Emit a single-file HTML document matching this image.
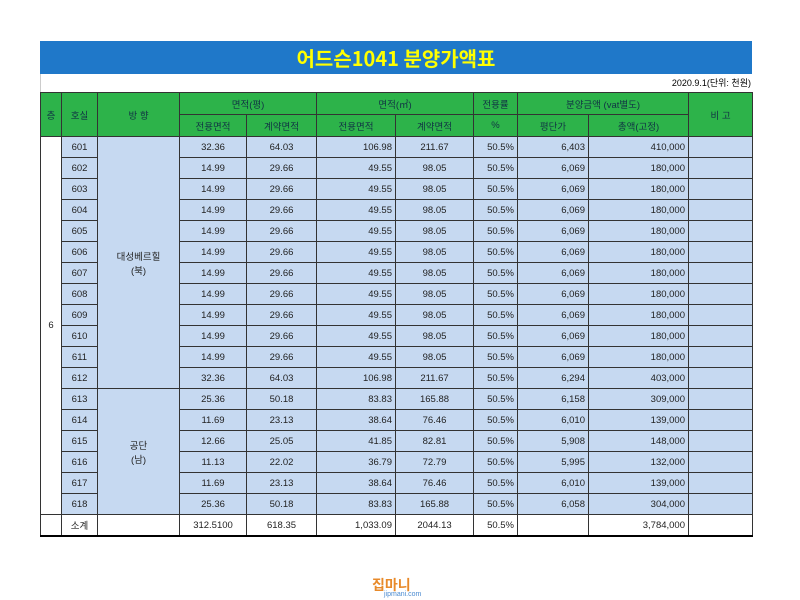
<!DOCTYPE html><html><head><meta charset="utf-8"><style>
body{margin:0;width:800px;height:600px;background:#fff;position:relative;overflow:hidden;font-family:"Liberation Sans","Noto Sans CJK KR",sans-serif}
.t{position:absolute;left:40px;top:41px;width:712px;height:33px;background:#1f78c9;color:#ffff00;font-weight:bold;font-size:20px;text-align:center;line-height:33px;font-family:"Noto Sans CJK KR",sans-serif}
.d{position:absolute;left:40px;top:74px;width:710px;height:18px;font-size:9px;text-align:right;line-height:18px;border-left:1px solid #ccc}
table{position:absolute;left:40px;top:92px;border-collapse:collapse;table-layout:fixed;font-size:9.5px;color:#222}
td{border:1px solid #333;height:20px;padding:0 3px;text-align:center;background:#c6d9f1;white-space:nowrap;overflow:hidden}
tr.h td{background:#2db34a;height:21px;color:#134}
td.r{text-align:right}
td.w{background:#fff}
table{border-bottom:2px solid #000}
</style></head><body>
<div class="t">어드슨1041 분양가액표</div>
<div class="d">2020.9.1(단위: 천원)</div>
<table>
<colgroup><col style="width:21px"><col style="width:36px"><col style="width:82px"><col style="width:67px"><col style="width:70px"><col style="width:79px"><col style="width:78px"><col style="width:44px"><col style="width:71px"><col style="width:100px"><col style="width:64px"></colgroup>
<tr class="h"><td rowspan="2">층</td><td rowspan="2">호실</td><td rowspan="2">방 향</td><td colspan="2">면적(평)</td><td colspan="2">면적(㎡)</td><td>전용률</td><td colspan="2">분양금액 (vat별도)</td><td rowspan="2">비 고</td></tr>
<tr class="h"><td>전용면적</td><td>계약면적</td><td>전용면적</td><td>계약면적</td><td>%</td><td>평단가</td><td>총액(고정)</td></tr>
<tr><td class="w" rowspan="18">6</td><td>601</td><td rowspan="12">대성베르힐<br>(북)</td><td>32.36</td><td>64.03</td><td class="r">106.98</td><td>211.67</td><td class="r">50.5%</td><td class="r">6,403</td><td class="r">410,000</td><td></td></tr>
<tr><td>602</td><td>14.99</td><td>29.66</td><td class="r">49.55</td><td>98.05</td><td class="r">50.5%</td><td class="r">6,069</td><td class="r">180,000</td><td></td></tr>
<tr><td>603</td><td>14.99</td><td>29.66</td><td class="r">49.55</td><td>98.05</td><td class="r">50.5%</td><td class="r">6,069</td><td class="r">180,000</td><td></td></tr>
<tr><td>604</td><td>14.99</td><td>29.66</td><td class="r">49.55</td><td>98.05</td><td class="r">50.5%</td><td class="r">6,069</td><td class="r">180,000</td><td></td></tr>
<tr><td>605</td><td>14.99</td><td>29.66</td><td class="r">49.55</td><td>98.05</td><td class="r">50.5%</td><td class="r">6,069</td><td class="r">180,000</td><td></td></tr>
<tr><td>606</td><td>14.99</td><td>29.66</td><td class="r">49.55</td><td>98.05</td><td class="r">50.5%</td><td class="r">6,069</td><td class="r">180,000</td><td></td></tr>
<tr><td>607</td><td>14.99</td><td>29.66</td><td class="r">49.55</td><td>98.05</td><td class="r">50.5%</td><td class="r">6,069</td><td class="r">180,000</td><td></td></tr>
<tr><td>608</td><td>14.99</td><td>29.66</td><td class="r">49.55</td><td>98.05</td><td class="r">50.5%</td><td class="r">6,069</td><td class="r">180,000</td><td></td></tr>
<tr><td>609</td><td>14.99</td><td>29.66</td><td class="r">49.55</td><td>98.05</td><td class="r">50.5%</td><td class="r">6,069</td><td class="r">180,000</td><td></td></tr>
<tr><td>610</td><td>14.99</td><td>29.66</td><td class="r">49.55</td><td>98.05</td><td class="r">50.5%</td><td class="r">6,069</td><td class="r">180,000</td><td></td></tr>
<tr><td>611</td><td>14.99</td><td>29.66</td><td class="r">49.55</td><td>98.05</td><td class="r">50.5%</td><td class="r">6,069</td><td class="r">180,000</td><td></td></tr>
<tr><td>612</td><td>32.36</td><td>64.03</td><td class="r">106.98</td><td>211.67</td><td class="r">50.5%</td><td class="r">6,294</td><td class="r">403,000</td><td></td></tr>
<tr><td>613</td><td rowspan="6">공단<br>(남)</td><td>25.36</td><td>50.18</td><td class="r">83.83</td><td>165.88</td><td class="r">50.5%</td><td class="r">6,158</td><td class="r">309,000</td><td></td></tr>
<tr><td>614</td><td>11.69</td><td>23.13</td><td class="r">38.64</td><td>76.46</td><td class="r">50.5%</td><td class="r">6,010</td><td class="r">139,000</td><td></td></tr>
<tr><td>615</td><td>12.66</td><td>25.05</td><td class="r">41.85</td><td>82.81</td><td class="r">50.5%</td><td class="r">5,908</td><td class="r">148,000</td><td></td></tr>
<tr><td>616</td><td>11.13</td><td>22.02</td><td class="r">36.79</td><td>72.79</td><td class="r">50.5%</td><td class="r">5,995</td><td class="r">132,000</td><td></td></tr>
<tr><td>617</td><td>11.69</td><td>23.13</td><td class="r">38.64</td><td>76.46</td><td class="r">50.5%</td><td class="r">6,010</td><td class="r">139,000</td><td></td></tr>
<tr><td>618</td><td>25.36</td><td>50.18</td><td class="r">83.83</td><td>165.88</td><td class="r">50.5%</td><td class="r">6,058</td><td class="r">304,000</td><td></td></tr>
<tr><td class="w"></td><td class="w">소계</td><td class="w"></td><td class="w">312.5100</td><td class="w">618.35</td><td class="w r">1,033.09</td><td class="w">2044.13</td><td class="w r">50.5%</td><td class="w"></td><td class="w r">3,784,000</td><td class="w"></td></tr>
</table>
<div style="position:absolute;left:372px;top:575px;font-size:14px;font-weight:bold;color:#e88a2a">집마니</div>
<div style="position:absolute;left:384px;top:591px;font-size:7px;color:#4a8ad0">jipmani.com</div>
</body></html>
